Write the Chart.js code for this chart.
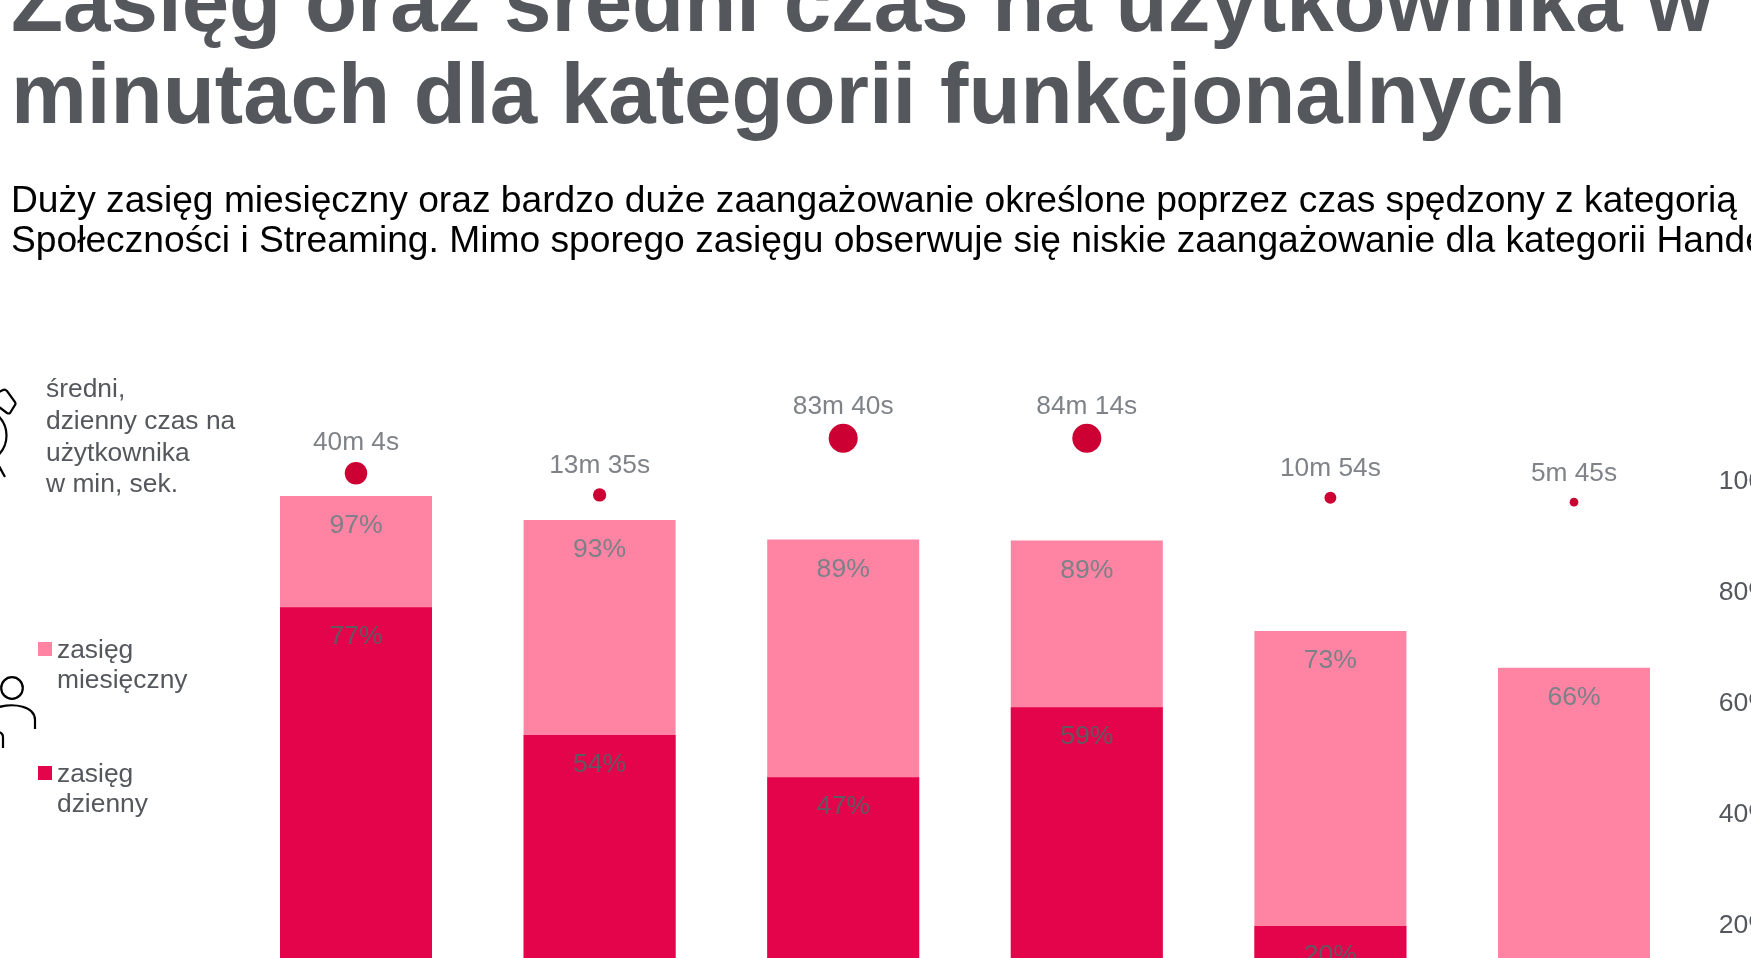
<!DOCTYPE html>
<html lang="pl">
<head>
<meta charset="utf-8">
<title>Zasięg oraz średni czas na użytkownika</title>
<script src="https://cdn.jsdelivr.net/npm/chart.js@4"></script>
<style>
    html, body { margin: 0; padding: 0; background: #fff; width: 1751px; height: 958px; overflow: hidden; }
    body { position: relative; font-family: "Liberation Sans", Arial, sans-serif; }
    #chart { position: absolute; left: 0; top: 0; }
    .txt { position: absolute; white-space: pre; color: #54575c; }
    .title { left: 11px; font-size: 85.3px; font-weight: bold; line-height: 92px; top: -44px; }
    .sub { left: 11px; top: 179px; font-size: 37.2px; line-height: 40px; color: #000; }
    .note { font-size: 26.4px; line-height: 31.8px; }
    .swatch { position: absolute; width: 14px; height: 14px; }
    svg { position: absolute; left: 0; top: 0; }
</style>
</head>
<body>
<canvas id="chart" width="1800" height="1200"></canvas>
<svg width="60" height="958" fill="none" stroke="#000" stroke-width="2.2">
    <!-- clock and person icons, cut by the left edge as in the source slide -->
    <path d="M-1 392 L3 390 Q5 389 7 391 L15 402 Q16 404 15 405 L10 413 Q9 414 7 413 L-1 407"/>
    <circle cx="-21" cy="435.5" r="27.5"/>
    <path d="M-1 466 L5 477"/>
    <circle cx="12" cy="688" r="10.8"/>
    <path d="M-1 707 C14 703 35 706 35 720 L35 729"/>
    <path d="M-1 732 Q3 733 3 737 L3 748"/>
</svg>
<div class="txt title">Zasięg oraz średni czas na użytkownika w
minutach dla kategorii funkcjonalnych</div>
<div class="txt sub">Duży zasięg miesięczny oraz bardzo duże zaangażowanie określone poprzez czas spędzony z kategorią
Społeczności i Streaming. Mimo sporego zasięgu obserwuje się niskie zaangażowanie dla kategorii Handel</div>
<div class="txt note" style="left:46px;top:373px">średni,
dzienny czas na
użytkownika
w min, sek.</div>
<div class="swatch" style="left:38px;top:642px;background:#ff84a4"></div>
<div class="txt note" style="left:57px;top:634px;line-height:30px">zasięg
miesięczny</div>
<div class="swatch" style="left:38px;top:766px;background:#e4044c"></div>
<div class="txt note" style="left:57px;top:758px;line-height:30px">zasięg
dzienny</div>
<script>
// Values
const categories = ['1', '2', '3', '4', '5', '6'];
const monthlyReach = [97.2, 92.9, 89.4, 89.2, 72.9, 66.3];
const dailyReach = [77.2, 54.2, 46.6, 59.2, 19.8, null];
const timeLabels = ['40m 4s', '13m 35s', '83m 40s', '84m 14s', '10m 54s', '5m 45s'];
const timeSeconds = [2404, 815, 5020, 5054, 654, 345];
const dotLevel = [101.3, 97.4, 107.6, 107.6, 96.9, 96.1];
const yTicks = [0, 20, 40, 60, 80, 100];

const FONT = '"Liberation Sans", Arial, sans-serif';

// Bubble size follows the average time, the biggest ones are capped
function dotRadius(seconds) {
    return Math.min(14.5, 0.225 * Math.sqrt(seconds) + 0.2);
}

// Draws the percent labels inside the bars and the time labels over the dots
const valueLabels = {
    id: 'valueLabels',
    afterDatasetsDraw(chart) {
        const { ctx, scales } = chart;
        ctx.save();
        ctx.textAlign = 'center';
        ctx.textBaseline = 'middle';

        categories.forEach((cat, i) => {
            const x = scales.x.getPixelForValue(i);

            ctx.font = `26.6px ${FONT}`;
            ctx.fillStyle = '#7c8087';
            ctx.fillText(Math.round(monthlyReach[i]) + '%', x, scales.y.getPixelForValue(monthlyReach[i]) + 30);

            if (dailyReach[i] !== null) {
                ctx.fillStyle = '#5e5a60';
                ctx.fillText(Math.round(dailyReach[i]) + '%', x, scales.y.getPixelForValue(dailyReach[i]) + 30);
            }

            const gap = 26.5 + dotRadius(timeSeconds[i]) * 0.35;
            ctx.font = `26.3px ${FONT}`;
            ctx.fillStyle = '#7f8388';
            ctx.fillText(timeLabels[i], x, scales.y.getPixelForValue(dotLevel[i]) - gap);
        });
        ctx.restore();
    }
};

new Chart(document.getElementById('chart').getContext('2d'), {
    data: {
        labels: categories,
        datasets: [
            {
                type: 'line',
                label: 'średni, dzienny czas na użytkownika',
                data: dotLevel,
                showLine: false,
                pointRadius: timeSeconds.map(dotRadius),
                pointBackgroundColor: '#cc0033',
                pointBorderWidth: 0,
                order: 0
            },
            {
                type: 'bar',
                label: 'zasięg dzienny',
                data: dailyReach,
                backgroundColor: '#e4044c',
                grouped: false,
                barPercentage: 0.624,
                categoryPercentage: 1,
                order: 1
            },
            {
                type: 'bar',
                label: 'zasięg miesięczny',
                data: monthlyReach,
                backgroundColor: '#ff84a4',
                grouped: false,
                barPercentage: 0.624,
                categoryPercentage: 1,
                order: 2
            }
        ]
    },
    options: {
        responsive: false,
        animation: false,
        layout: { padding: { left: 234.2, top: 369.4, bottom: 164 } },
        plugins: { legend: { display: false }, tooltip: { enabled: false } },
        scales: {
            x: { display: false },
            y: {
                position: 'right',
                min: 0,
                max: 120,
                grid: { display: false, drawTicks: false },
                border: { display: false },
                afterFit(scale) { scale.width = 104.2; },
                afterBuildTicks(scale) { scale.ticks = yTicks.map(value => ({ value })); },
                ticks: {
                    padding: 23,
                    labelOffset: 1,
                    color: '#54575c',
                    font: { family: FONT, size: 26.6 },
                    callback: value => value + '%'
                }
            }
        }
    },
    plugins: [valueLabels]
});
</script>
</body>
</html>
